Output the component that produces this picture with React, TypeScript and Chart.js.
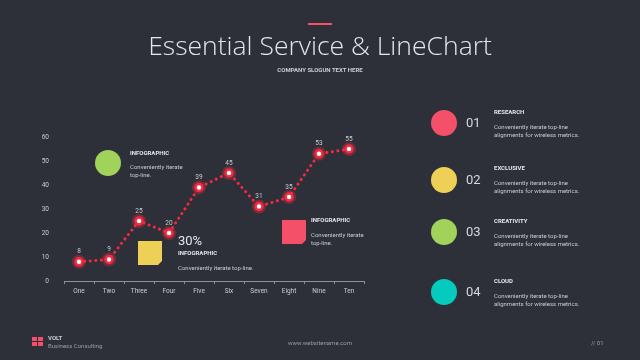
import React, { useEffect, useRef } from "react";
import { Chart, registerables } from "chart.js";
Chart.register(...registerables);

const categories = ["One", "Two", "Three", "Four", "Five", "Six", "Seven", "Eight", "Nine", "Ten"];
const values = [8, 9, 25, 20, 39, 45, 31, 35, 53, 55];
const yMin = 0;
const yMax = 60;
const yStep = 10;

const BG = "#2e3039";
const RED = "#f5293f";
const PINK = "#f4506a";
const YELLOW = "#efd056";
const GREEN = "#a1d35a";
const TEAL = "#05cbbf";
const TEXT = "#c9ccd3";

const valueLabels = {
  id: "valueLabels",
  afterDatasetsDraw(chart: any) {
    const ctx = chart.ctx;
    const meta = chart.getDatasetMeta(0);
    ctx.save();
    ctx.font = "6.5px Roboto";
    ctx.fillStyle = TEXT;
    ctx.textAlign = "center";
    ctx.textBaseline = "middle";
    meta.data.forEach((pt: any, i: number) => {
      ctx.fillText(String(values[i]), pt.x, pt.y - 10);
    });
    ctx.restore();
  },
};

const glow = {
  id: "glow",
  beforeDatasetsDraw(chart: any) {
    const ctx = chart.ctx;
    const meta = chart.getDatasetMeta(0);
    ctx.save();
    ctx.fillStyle = "rgba(245,41,63,0.35)";
    meta.data.forEach((pt: any) => {
      ctx.beginPath();
      ctx.arc(pt.x, pt.y, 7, 0, Math.PI * 2);
      ctx.fill();
    });
    ctx.restore();
  },
};

function Txt(props: { x: number; y: number; size: number; bold?: boolean; color?: string; children: any; family?: string; weight?: number; center?: boolean; lh?: number; ls?: number }) {
  const lh = props.lh ?? props.size * 1.2;
  return (
    <div
      style={{
        position: "absolute",
        left: props.center ? props.x - 200 : props.x,
        width: props.center ? 400 : undefined,
        textAlign: props.center ? "center" : "left",
        top: props.y - lh / 2,
        fontSize: props.size,
        lineHeight: lh + "px",
        fontFamily: props.family ?? "Roboto, sans-serif",
        fontWeight: props.weight ?? (props.bold ? 700 : 400),
        color: props.color ?? TEXT,
        whiteSpace: "pre",
        letterSpacing: props.ls ?? 0,
      }}
    >
      {props.children}
    </div>
  );
}

function Circle(props: { x: number; y: number; r: number; color: string }) {
  return (
    <div
      style={{
        position: "absolute",
        left: props.x - props.r,
        top: props.y - props.r,
        width: props.r * 2,
        height: props.r * 2,
        borderRadius: "50%",
        background: props.color,
      }}
    />
  );
}

function Note(props: { x: number; y: number; s: number; color: string }) {
  const c = 4;
  return (
    <div
      style={{
        position: "absolute",
        left: props.x,
        top: props.y,
        width: props.s,
        height: props.s,
        background: props.color,
        clipPath: `polygon(0 0, 100% 0, 100% calc(100% - ${c}px), calc(100% - ${c}px) 100%, 0 100%)`,
      }}
    />
  );
}

const listItems = [
  { color: PINK, num: "01", title: "RESEARCH", cy: 123, ty: 112 },
  { color: YELLOW, num: "02", title: "EXCLUSIVE", cy: 180, ty: 168 },
  { color: GREEN, num: "03", title: "CREATIVITY", cy: 232, ty: 221 },
  { color: TEAL, num: "04", title: "CLOUD", cy: 292, ty: 281 },
];

export default function App() {
  const ref = useRef<HTMLCanvasElement>(null);
  useEffect(() => {
    if (!ref.current) return;
    const chart = new Chart(ref.current, {
      type: "line",
      data: {
        labels: categories,
        datasets: [
          {
            data: values,
            borderColor: RED,
            borderWidth: 3,
            borderDash: [0.1, 5.5],
            borderCapStyle: "round",
            tension: 0,
            fill: false,
            pointRadius: 3.5,
            pointBorderWidth: 2.5,
            pointBackgroundColor: "#ffffff",
            pointBorderColor: RED,
          },
        ],
      },
      options: {
        animation: false,
        responsive: false,
        maintainAspectRatio: false,
        layout: { padding: { left: 34, right: 276, top: 137, bottom: 59 } },
        plugins: { legend: { display: false }, tooltip: { enabled: false } },
        scales: {
          x: {
            offset: true,
            afterFit: (s: any) => {
              s.height = 20;
            },
            grid: {
              display: true,
              drawOnChartArea: false,
              drawTicks: true,
              tickLength: 3,
              color: "#8c8f97",
              offset: true,
            },
            border: { display: true, color: "#8c8f97", width: 1 },
            ticks: { color: TEXT, font: { family: "Roboto", size: 6.5 }, padding: 3 },
          },
          y: {
            min: yMin,
            max: yMax,
            afterFit: (s: any) => {
              s.width = 30;
            },
            grid: { display: false },
            border: { display: false },
            ticks: { stepSize: yStep, color: TEXT, font: { family: "Roboto", size: 6.5 }, padding: 7 },
          },
        },
      },
      plugins: [glow, valueLabels],
    });
    return () => chart.destroy();
  }, []);

  return (
    <div style={{ position: "fixed", left: 0, top: 0, width: 640, height: 360, background: BG, overflow: "hidden" }}>
      <canvas ref={ref} width={640} height={360} style={{ position: "absolute", left: 0, top: 0, width: 640, height: 360 }} />
      <div style={{ position: "absolute", left: 308, top: 23, width: 24, height: 2, background: PINK }} />
      <Txt x={320} y={45} size={26.5} center family="'Open Sans', sans-serif" weight={300} color="#e3e5ea" lh={32}>
        Essential Service &amp; LineChart
      </Txt>
      <Txt x={320} y={70} size={6} center bold color="#c9ccd3">COMPANY SLOGUN TEXT HERE</Txt>

      <Circle x={108} y={163} r={13} color={GREEN} />
      <Txt x={130} y={153} size={6} bold color="#e3e5ea">INFOGRAPHIC</Txt>
      <Txt x={130} y={167} size={6}>Conveniently iterate</Txt>
      <Txt x={130} y={175} size={6}>top-line.</Txt>

      <Note x={138} y={241} s={24} color={YELLOW} />
      <Txt x={178} y={241} size={13} color="#e3e5ea">30%</Txt>
      <Txt x={178} y={253} size={6} bold color="#e3e5ea">INFOGRAPHIC</Txt>
      <Txt x={178} y={268} size={6}>Conveniently iterate top-line.</Txt>

      <Note x={282} y={220} s={24} color={PINK} />
      <Txt x={311} y={220} size={6} bold color="#e3e5ea">INFOGRAPHIC</Txt>
      <Txt x={311} y={235} size={6}>Conveniently iterate</Txt>
      <Txt x={311} y={243} size={6}>top-line.</Txt>

      {listItems.map((it) => (
        <React.Fragment key={it.num}>
          <Circle x={444} y={it.cy} r={13} color={it.color} />
          <Txt x={466} y={it.cy} size={13} color="#d5d8de">{it.num}</Txt>
          <Txt x={494} y={it.ty} size={6} bold color="#e3e5ea">{it.title}</Txt>
          <Txt x={494} y={it.ty + 15} size={6}>Conveniently iterate top-line</Txt>
          <Txt x={494} y={it.ty + 22.5} size={6}>alignments for wireless metrics.</Txt>
        </React.Fragment>
      ))}

      <div style={{ position: "absolute", left: 32, top: 337, width: 5, height: 4, background: PINK }} />
      <div style={{ position: "absolute", left: 38, top: 337, width: 5, height: 4, background: PINK }} />
      <div style={{ position: "absolute", left: 32, top: 342, width: 5, height: 4, background: PINK }} />
      <div style={{ position: "absolute", left: 38, top: 342, width: 5, height: 4, background: PINK }} />
      <Txt x={48} y={338} size={6} bold color="#c9ccd3">VOLT</Txt>
      <Txt x={48} y={346} size={6} color="#9a9da5">Business Consulting</Txt>
      <Txt x={320} y={343} size={6} center color="#9a9da5">www.websitename.com</Txt>
      <Txt x={591} y={343} size={6} color="#9a9da5">// 01</Txt>
    </div>
  );
}
